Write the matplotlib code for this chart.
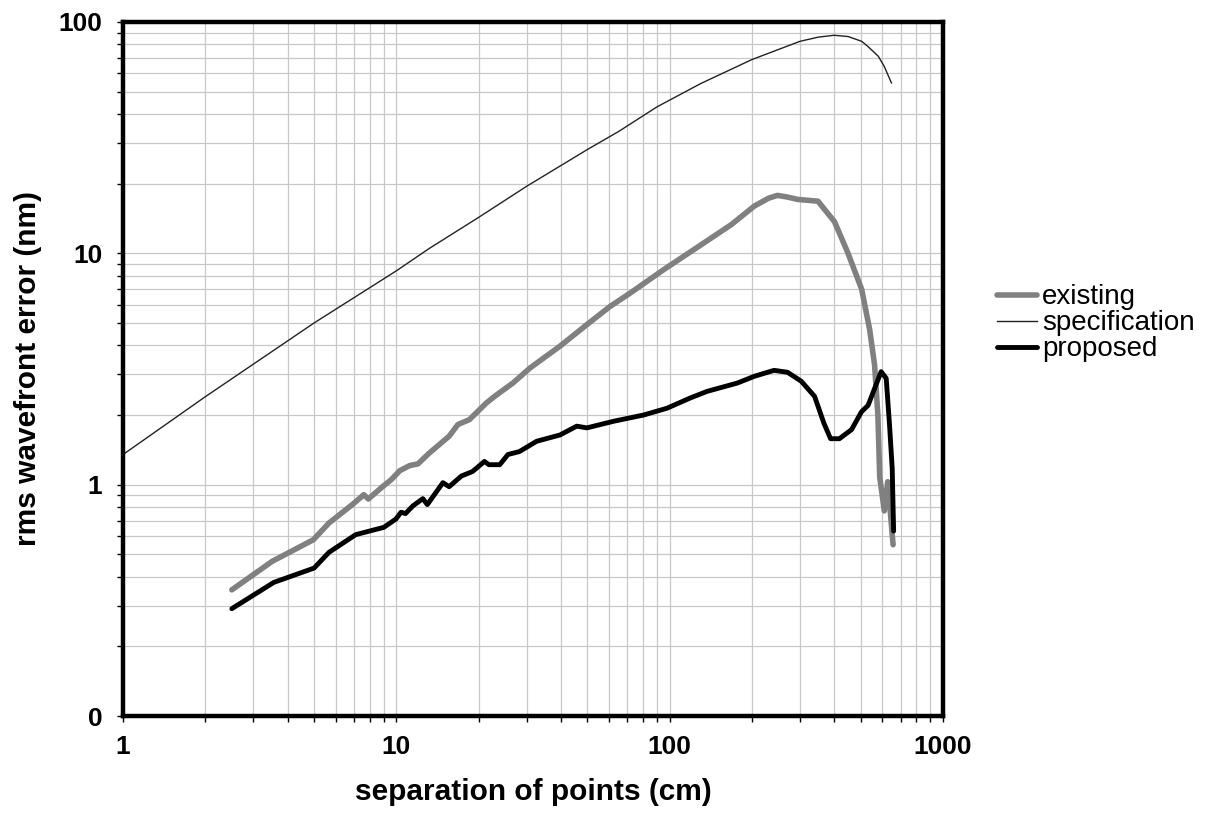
import matplotlib
matplotlib.use("Agg")
import matplotlib.pyplot as plt
from matplotlib.ticker import LogLocator, FuncFormatter, NullFormatter

plt.rcParams['font.family'] = ['Liberation Sans', 'DejaVu Sans']

# specification curve (thin line)
spec_x = [1, 2, 5, 10, 13.2, 20, 30, 50, 65, 90, 130, 200, 300, 350, 400, 450, 504, 530,
          580, 610, 648]
spec_y = [1.35, 2.4, 5.0, 8.4, 10.5, 14.3, 19.5, 28.1, 33.6, 43.0, 54.2, 68.8, 82.5, 86,
          87.6, 86.5, 82.5, 78.6, 71.1, 64.2, 54.5]

# existing (gray)
exist_x = [2.5, 3.51, 4.97, 5.67, 6.9, 7.6, 7.9, 8.9, 9.57, 10.3, 11.2, 12, 13.2, 15.6,
           16.8, 18.5, 21.3, 22.9, 26.7, 30.9, 39.7, 49.8, 60.6, 71.8, 95.1, 126, 168,
           204, 230, 248, 270, 294, 349, 401, 448, 504, 539, 562, 578, 587, 610, 628, 657]
exist_y = [0.351, 0.466, 0.578, 0.683, 0.82, 0.905, 0.867, 0.98, 1.05, 1.15, 1.21, 1.23,
           1.37, 1.62, 1.82, 1.91, 2.25, 2.41, 2.75, 3.2, 3.97, 4.92, 5.9, 6.74, 8.5, 10.6,
           13.3, 16.0, 17.3, 17.8, 17.5, 17.1, 16.8, 13.7, 10.1, 7.0, 4.7, 3.3, 2.0, 1.08,
           0.77, 1.03, 0.55]

# proposed (black)
prop_x = [2.5, 3.56, 5.0, 5.67, 7.1, 9.0, 9.96, 10.4, 10.8, 11.5, 12.5, 12.98, 14.8, 15.6,
          17.3, 19.0, 21.0, 21.8, 23.9, 25.6, 28.2, 32.6, 39.7, 45.7, 49.8, 62.4, 80.3,
          97.8, 119, 137, 177, 204, 241, 270, 303, 339, 367, 388, 418, 463, 504, 532,
          594, 620, 637, 652, 660]
prop_y = [0.291, 0.378, 0.436, 0.51, 0.608, 0.654, 0.71, 0.76, 0.75, 0.81, 0.87, 0.82,
          1.02, 0.98, 1.09, 1.14, 1.26, 1.22, 1.22, 1.35, 1.39, 1.54, 1.64, 1.79, 1.76,
          1.88, 2.0, 2.14, 2.37, 2.53, 2.75, 2.94, 3.12, 3.06, 2.80, 2.41, 1.84, 1.58,
          1.58, 1.73, 2.07, 2.2, 3.08, 2.88, 1.84, 1.18, 0.63]

fig = plt.figure(figsize=(12.1, 8.23), dpi=100)
ax = fig.add_axes([0.1017, 0.13, 0.6776, 0.8433])
ax.set_xscale('log')
ax.set_yscale('log')
ax.set_xlim(1, 1000)
ax.set_ylim(0.1, 100)

ax.grid(True, which='both', color='#c8c8c8', linewidth=0.9)
ax.set_axisbelow(True)

l1, = ax.plot(exist_x, exist_y, color='#808080', lw=4.0, solid_capstyle='round',
              solid_joinstyle='round', label='existing')
l2, = ax.plot(spec_x, spec_y, color='#222222', lw=1.0, label='specification')
l3, = ax.plot(prop_x, prop_y, color='black', lw=3.5, solid_capstyle='round',
              solid_joinstyle='round', label='proposed')

for s in ax.spines.values():
    s.set_linewidth(3.2)
    s.set_color('black')

ax.xaxis.set_major_locator(LogLocator(base=10))
ax.xaxis.set_minor_locator(LogLocator(base=10, subs=range(2, 10)))
ax.yaxis.set_major_locator(LogLocator(base=10))
ax.yaxis.set_minor_locator(LogLocator(base=10, subs=range(2, 10)))
fmt = FuncFormatter(lambda v, p: "%.0f" % v)
ax.xaxis.set_major_formatter(fmt)
ax.yaxis.set_major_formatter(fmt)
ax.xaxis.set_minor_formatter(NullFormatter())
ax.yaxis.set_minor_formatter(NullFormatter())
ax.tick_params(which='both', direction='out', length=4, width=1, color='black')
ax.tick_params(which='major', labelsize=19, pad=10)
ax.tick_params(axis='y', which='major', pad=11)
for lab in ax.get_xticklabels() + ax.get_yticklabels():
    lab.set_fontweight('bold')

ax.set_xlabel('separation of points (cm)', fontsize=21.5, fontweight='bold', labelpad=13)
ax.set_ylabel('rms wavefront error (nm)', fontsize=21.5, fontweight='bold', labelpad=12)

fig.legend(handles=[l1, l2, l3], loc='center left', bbox_to_anchor=(0.824, 0.607),
           frameon=False, fontsize=20, handlelength=1.45, handletextpad=0.18,
           labelspacing=0.0, borderpad=0, borderaxespad=0)

fig.savefig('out.png', dpi=100)
